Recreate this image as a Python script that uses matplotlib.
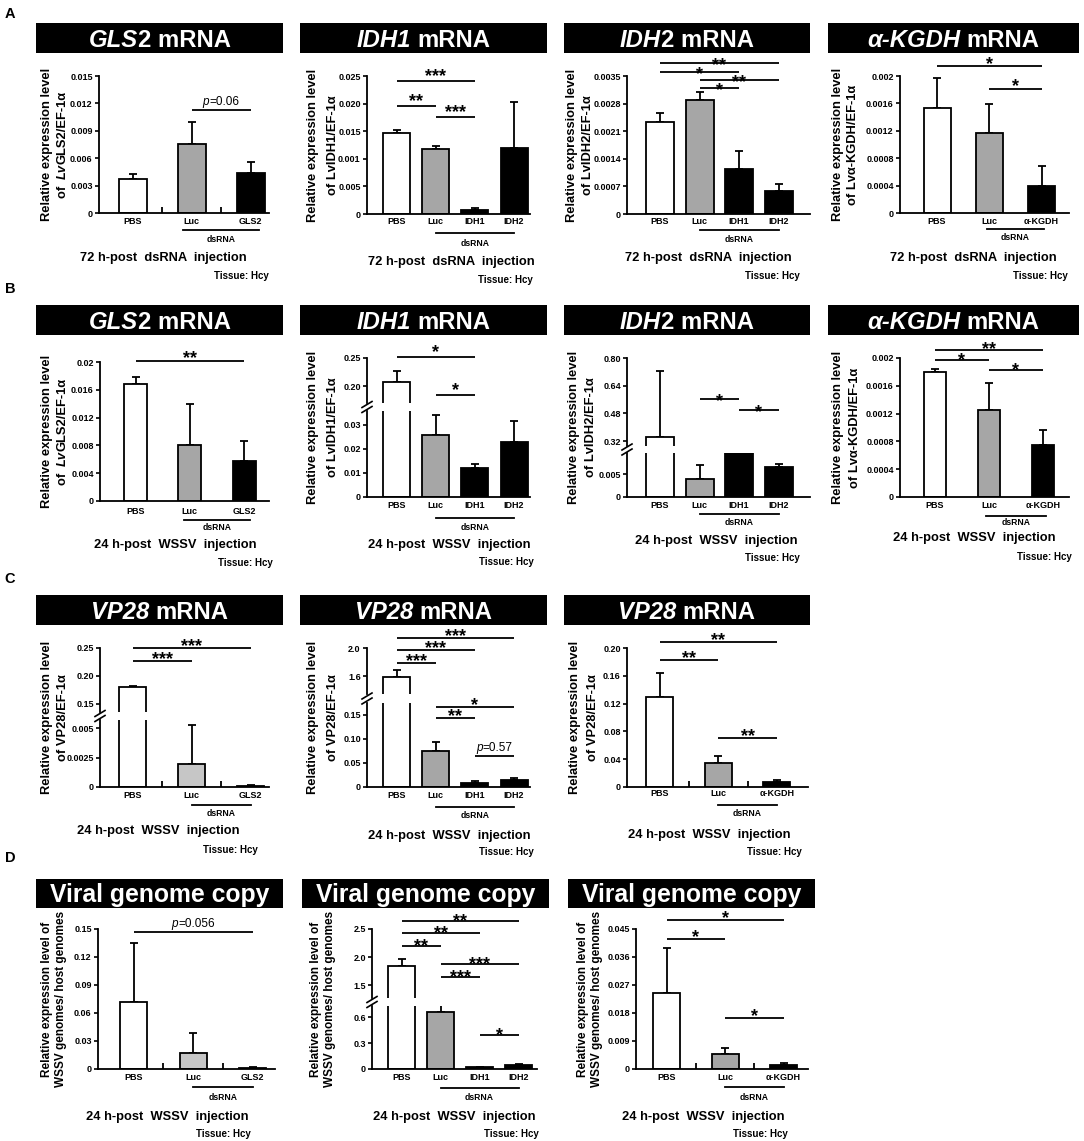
import matplotlib
matplotlib.use('Agg')
import matplotlib.pyplot as plt
from matplotlib.patches import Rectangle
from matplotlib.lines import Line2D
from matplotlib.transforms import blended_transform_factory, IdentityTransform

W, H = 1084, 1141
plt.rcParams['font.family'] = ['Liberation Sans', 'DejaVu Sans']
plt.rcParams['font.weight'] = 'bold'

WHITE, GRAY, LIGHT, BLACK = 'white', '#a6a6a6', '#c6c6c6', 'black'

# ---------------- data ----------------
gls_groups = ['PBS', 'Luc', 'GLS2']
idh_groups = ['PBS', 'Luc', 'IDH1', 'IDH2']
kgdh_groups = ['PBS', 'Luc', 'α-KGDH']

# A: 72 h-post dsRNA injection
a_gls2_mean = [0.0037, 0.0076, 0.0044]
a_gls2_sd = [0.0006, 0.0024, 0.0012]
a_gls2_sig = [(1, 2, 0.0113, 'p=0.06')]
a_idh1_mean = [0.0147, 0.0118, 0.0007, 0.0120]
a_idh1_sd = [0.0005, 0.0005, 0.0003, 0.0082]
a_idh1_sig = [(0, 2, 0.0241, '***'), (0, 1, 0.0196, '**'), (1, 2, 0.0176, '***')]
a_idh2_mean = [0.00233, 0.00289, 0.00115, 0.00058]
a_idh2_sd = [0.00024, 0.00020, 0.00044, 0.00017]
a_idh2_sig = [(0, 3, 0.00383, '**'), (0, 2, 0.0036, '*'), (1, 3, 0.0034, '**'), (1, 2, 0.0032, '*')]
a_kgdh_mean = [0.00153, 0.00117, 0.00039]
a_kgdh_sd = [0.00044, 0.00042, 0.00030]
a_kgdh_sig = [(0, 2, 0.00214, '*'), (1, 2, 0.00181, '*')]

# B: 24 h-post WSSV injection
b_gls2_mean = [0.0168, 0.0080, 0.0058]
b_gls2_sd = [0.0011, 0.0059, 0.0028]
b_gls2_sig = [(0, 2, 0.0201, '**')]
b_idh1_mean = [0.208, 0.0258, 0.0121, 0.0229]
b_idh1_sd = [0.018, 0.0084, 0.0017, 0.0088]
b_idh1_sig = [(0, 2, 0.252, '*'), (1, 2, 0.184, '*')]
b_idh2_mean = [0.345, 0.0039, 0.0096, 0.0066]
b_idh2_sd = [0.38, 0.0031, 0.0016, 0.0006]
b_idh2_sig = [(1, 2, 0.563, '*'), (2, 3, 0.50, '*')]
b_kgdh_mean = [0.00180, 0.00125, 0.00075]
b_kgdh_sd = [0.00004, 0.00039, 0.00021]
b_kgdh_sig = [(0, 2, 0.00212, '**'), (0, 1, 0.00197, '*'), (1, 2, 0.00183, '*')]

# C: VP28 mRNA
c_gls2_mean = [0.181, 0.00195, 0.0001]
c_gls2_sd = [0.002, 0.0033, 0.00005]
c_gls2_sig = [(0, 2, 0.2505, '***'), (0, 1, 0.2268, '***')]
c_idh_mean = [1.58, 0.075, 0.008, 0.0146]
c_idh_sd = [0.10, 0.019, 0.005, 0.005]
c_idh_sig = [(0, 3, 2.143, '***'), (0, 2, 1.971, '***'), (0, 1, 1.786, '***'),
             (1, 3, 0.167, '*'), (1, 2, 0.144, '**'), (2, 3, 0.065, 'p=0.57')]
c_kgdh_mean = [0.129, 0.035, 0.007]
c_kgdh_sd = [0.035, 0.010, 0.003]
c_kgdh_sig = [(0, 2, 0.2086, '**'), (0, 1, 0.183, '**'), (1, 2, 0.0705, '**')]

# D: viral genome copy
d_gls2_mean = [0.0715, 0.0175, 0.0012]
d_gls2_sd = [0.0632, 0.0214, 0.0005]
d_gls2_sig = [(0, 2, 0.1465, 'p=0.056')]
d_idh_mean = [1.845, 0.661, 0.018, 0.045]
d_idh_sd = [0.115, 0.089, 0.010, 0.012]
d_idh_sig = [(0, 3, 2.643, '**'), (0, 2, 2.43, '**'), (0, 1, 2.196, '**'),
             (1, 3, 1.875, '***'), (1, 2, 1.643, '***'), (2, 3, 0.392, '*')]
d_kgdh_mean = [0.0243, 0.0047, 0.0013]
d_kgdh_sd = [0.0145, 0.0021, 0.0006]
d_kgdh_sig = [(0, 2, 0.0479, '*'), (0, 1, 0.0418, '*'), (1, 2, 0.0164, '*')]

# y tick values / labels
t_a1 = [0, 0.003, 0.006, 0.009, 0.012, 0.015]
l_a1 = ['0', '0.003', '0.006', '0.009', '0.012', '0.015']
t_a2 = [0, 0.005, 0.010, 0.015, 0.020, 0.025]
l_a2 = ['0', '0.005', '0.001', '0.015', '0.020', '0.025']
t_a3 = [0, 0.0007, 0.0014, 0.0021, 0.0028, 0.0035]
l_a3 = ['0', '0.0007', '0.0014', '0.0021', '0.0028', '0.0035']
t_kg = [0, 0.0004, 0.0008, 0.0012, 0.0016, 0.002]
l_kg = ['0', '0.0004', '0.0008', '0.0012', '0.0016', '0.002']
t_b1 = [0, 0.004, 0.008, 0.012, 0.016, 0.02]
l_b1 = ['0', '0.004', '0.008', '0.012', '0.016', '0.02']
t_b2u, l_b2u = [0.20, 0.25], ['0.20', '0.25']
t_b2l, l_b2l = [0, 0.01, 0.02, 0.03], ['0', '0.01', '0.02', '0.03']
t_b3u, l_b3u = [0.32, 0.48, 0.64, 0.80], ['0.32', '0.48', '0.64', '0.80']
t_b3l, l_b3l = [0, 0.005], ['0', '0.005']
t_c1u, l_c1u = [0.15, 0.20, 0.25], ['0.15', '0.20', '0.25']
t_c1l, l_c1l = [0, 0.0025, 0.005], ['0', '0.0025', '0.005']
t_c2u, l_c2u = [1.6, 2.0], ['1.6', '2.0']
t_c2l, l_c2l = [0, 0.05, 0.10, 0.15], ['0', '0.05', '0.10', '0.15']
t_c3 = [0, 0.04, 0.08, 0.12, 0.16, 0.20]
l_c3 = ['0', '0.04', '0.08', '0.12', '0.16', '0.20']
t_d1 = [0, 0.03, 0.06, 0.09, 0.12, 0.15]
l_d1 = ['0', '0.03', '0.06', '0.09', '0.12', '0.15']
t_d2u, l_d2u = [1.5, 2.0, 2.5], ['1.5', '2.0', '2.5']
t_d2l, l_d2l = [0, 0.3, 0.6], ['0', '0.3', '0.6']
t_d3 = [0, 0.009, 0.018, 0.027, 0.036, 0.045]
l_d3 = ['0', '0.009', '0.018', '0.027', '0.036', '0.045']

fig = plt.figure(figsize=(W / 100, H / 100), dpi=100)
fig.patch.set_facecolor('white')


def rich(x, y, parts, size, color='k', weight='bold', rot=0, va='baseline'):
    # x, y in display pixels, parts = [(text, style, gap after in px)]
    rend = fig.canvas.get_renderer()
    ts = []
    for s, st, gap in parts:
        if rot:
            t = fig.text(0, 0, s, transform=IdentityTransform(), fontsize=size, color=color,
                         fontweight=weight, style=st, rotation=90, ha='center', va='bottom')
        else:
            t = fig.text(0, 0, s, transform=IdentityTransform(), fontsize=size, color=color,
                         fontweight=weight, style=st, ha='left', va=va)
        ts.append((t, gap))
    sizes = []
    for t, gap in ts:
        bb = t.get_window_extent(rend)
        sizes.append((bb.height if rot else bb.width) + gap)
    pos = (y if rot else x) - sum(sizes) / 2
    for (t, gap), sz in zip(ts, sizes):
        t.set_position((x, pos) if rot else (pos, y))
        pos += sz


def panel(groups, mean, sd, sig, colors, L, R, c0, step, bw, axes_spec, title, ylab, ylx,
          box, cap, cx, tx, mids=False, ext=0.05, soff=7, ysize=9.3,
          caption='24 h-post  WSSV  injection'):
    n = len(groups)
    x = list(range(n))
    xlim = ((L - c0) / step, (R - c0) / step)
    axs = []
    for k, (T, B, ylim, ticks, labels) in enumerate(axes_spec):
        last = k == len(axes_spec) - 1
        ax = fig.add_axes([L / W, 1 - B / H, (R - L) / W, (B - T) / H])
        ax.patch.set_alpha(0)
        ax.bar(x, mean, width=bw / step, color=colors, edgecolor='k', linewidth=1.3, zorder=2)
        ax.errorbar(x, mean, yerr=[[0] * n, sd], fmt='none', ecolor='k', elinewidth=1.3,
                    capsize=3, capthick=1.3, zorder=1)
        ax.set_xlim(xlim)
        ax.set_ylim(ylim)
        ax.set_yticks(ticks)
        ax.set_yticklabels(labels, fontsize=6.5, fontweight='bold')
        ax.tick_params(axis='y', direction='out', length=3, width=1.2, pad=1.5)
        ax.set_xticks([])
        for s in ['top', 'right']:
            ax.spines[s].set_visible(False)
        ax.spines['left'].set_linewidth(1.3)
        if last:
            ax.spines['bottom'].set_linewidth(1.3)
            if mids:
                ax.set_xticks([i + 0.5 for i in range(n - 1)], minor=True)
                ax.tick_params(axis='x', which='minor', direction='in', length=4, width=1.3)
        else:
            ax.spines['bottom'].set_visible(False)
        axs.append(ax)

    # break marks on the y axis
    if len(axes_spec) == 2:
        yc = (axes_spec[0][1] + axes_spec[1][0]) / 2
        for off in (-2.5, 2.5):
            fig.add_artist(Line2D([(L - 5) / W, (L + 5) / W],
                                  [1 - (yc + off + 3) / H, 1 - (yc + off - 3) / H],
                                  transform=fig.transFigure, color='k', lw=1.2))

    # significance bars
    for i, j, h, lab in sig:
        ax = axs[0] if (len(axs) == 2 and h >= axes_spec[0][2][0]) else axs[-1]
        ax.plot([i, j], [h, h], color='k', lw=1.3, clip_on=False, solid_capstyle='butt')
        X, Y = ax.transData.transform(((i + j) / 2, h))
        if lab.startswith('p'):
            rich(X, Y + 5, [('p', 'italic', 0), (lab[1:], 'normal', 0)], 8.5, weight='normal')
        else:
            fig.text(X, Y + soff - 10.4, lab, transform=IdentityTransform(), ha='center',
                     va='baseline', fontsize=13, fontweight='bold')

    axb = axs[-1]
    trans = blended_transform_factory(axb.transData, fig.transFigure)
    for i, g in enumerate(groups):
        axb.text(i, 1 - cap[0] / H, g, transform=trans, ha='center', va='center', fontsize=6.5)
    axb.plot([1 - ext, n - 1 + ext], [1 - cap[1] / H] * 2, transform=trans, color='k',
             lw=1.3, clip_on=False)
    axb.text(n / 2, 1 - cap[2] / H, 'dsRNA', transform=trans, ha='center', va='center',
             fontsize=6.2)
    fig.text(cx / W, 1 - cap[3] / H, caption, ha='center', va='center', fontsize=9.3)
    fig.text(tx / W, 1 - cap[4] / H, 'Tissue: Hcy', ha='right', va='center', fontsize=7)

    # y label
    ymid = (axes_spec[0][0] + axes_spec[-1][1]) / 2
    for parts, xx in zip(ylab, ylx):
        rich(xx, H - ymid, parts, ysize, rot=90)

    # title box
    fig.add_artist(Rectangle((box[0] / W, 1 - box[3] / H), (box[1] - box[0]) / W,
                             (box[3] - box[2]) / H, transform=fig.transFigure,
                             facecolor='k', edgecolor='none'))
    tsize = title[1]
    rich((box[0] + box[1]) / 2, H - ((box[2] + box[3]) / 2 + 0.36 * tsize * 1.389),
         title[0], tsize, color='white')


REL = [('Relative expression level', 'normal', 0)]
t_gls = ([('GLS', 'italic', 0), ('2 mRNA', 'normal', 0)], 17.2)
t_idh1 = ([('IDH1', 'italic', 6), ('mRNA', 'normal', 0)], 17.2)
t_idh2 = ([('IDH', 'italic', 0), ('2 mRNA', 'normal', 0)], 17.2)
t_kgdh = ([('α-KGDH', 'italic', 6), ('mRNA', 'normal', 0)], 17.2)
t_vp = ([('VP28', 'italic', 6), ('mRNA', 'normal', 0)], 17.2)
t_vir = ([('Viral genome copy', 'normal', 0)], 17.8)

y_gls = [REL, [('of ', 'normal', 3), ('Lv', 'italic', 0), ('GLS2/EF-1α', 'normal', 0)]]
y_idh1 = [REL, [('of LvIDH1/EF-1α', 'normal', 0)]]
y_idh2 = [REL, [('of LvIDH2/EF-1α', 'normal', 0)]]
y_kgdh = [REL, [('of Lvα-KGDH/EF-1α', 'normal', 0)]]
y_vp = [REL, [('of VP28/EF-1α', 'normal', 0)]]
y_vir = [[('Relative expression level of', 'normal', 0)], [('WSSV genomes/ host genomes', 'normal', 0)]]

cap72 = '72 h-post  dsRNA  injection'
c3 = [WHITE, GRAY, BLACK]
c4 = [WHITE, GRAY, BLACK, BLACK]

# row A
panel(gls_groups, a_gls2_mean, a_gls2_sd, a_gls2_sig, c3, 99, 269, 132.5, 59, 28,
      [(76, 213, (0, 0.015), t_a1, l_a1)], t_gls, y_gls, (47, 63), (36, 283, 23, 53),
      (222, 230, 239, 258, 276), 163, 269, mids=True, ext=0.15, caption=cap72)
panel(idh_groups, a_idh1_mean, a_idh1_sd, a_idh1_sig, c4, 367, 530, 396.5, 39.2, 27,
      [(76, 214, (0, 0.025), t_a2, l_a2)], t_idh1, y_idh1, (313, 333), (300, 547, 23, 53),
      (222, 233, 243, 262, 280), 451, 533, ext=0, soff=10, caption=cap72)
panel(idh_groups, a_idh2_mean, a_idh2_sd, a_idh2_sig, c4, 627, 810, 660, 39.5, 28,
      [(76, 214, (0, 0.0035), t_a3, l_a3)], t_idh2, y_idh2, (572, 588), (564, 810, 23, 53),
      (222, 230, 239, 258, 276), 708, 800, ext=0, soff=3.5, caption=cap72)
panel(kgdh_groups, a_kgdh_mean, a_kgdh_sd, a_kgdh_sig, c3, 900, 1069, 937, 52.3, 27,
      [(76, 213, (0, 0.002), t_kg, l_kg)], t_kgdh, y_kgdh, (838, 853), (828, 1079, 23, 53),
      (222, 229, 238, 258, 276), 973, 1068, soff=8, caption=cap72)

# row B
panel(gls_groups, b_gls2_mean, b_gls2_sd, b_gls2_sig, c3, 100, 269, 135.5, 54.3, 23,
      [(362, 501, (0, 0.02), t_b1, l_b1)], t_gls, y_gls, (47, 63), (36, 283, 305, 335),
      (512, 520, 527, 545, 563), 175, 273, ext=0.1, soff=9)
panel(idh_groups, b_idh1_mean, b_idh1_sd, b_idh1_sig, c4, 367, 530, 396.5, 39.2, 27,
      [(358, 403, (0.17, 0.25), t_b2u, l_b2u), (411, 497, (0, 0.0358), t_b2l, l_b2l)],
      t_idh1, y_idh1, (313, 333), (300, 547, 305, 335), (505, 518, 527, 545, 562), 449, 534,
      ext=0, soff=10)
panel(idh_groups, b_idh2_mean, b_idh2_sd, b_idh2_sig, c4, 627, 810, 660, 39.5, 28,
      [(358, 446, (0.292, 0.80), t_b3u, l_b3u), (453, 497, (0, 0.0096), t_b3l, l_b3l)],
      t_idh2, y_idh2, (574, 591), (564, 810, 305, 335), (505, 514, 523, 541, 558), 716, 800,
      ext=0, soff=3.5)
panel(kgdh_groups, b_kgdh_mean, b_kgdh_sd, b_kgdh_sig, c3, 900, 1069, 935, 54, 22,
      [(358, 497, (0, 0.002), t_kg, l_kg)], t_kgdh, y_kgdh, (838, 855), (828, 1079, 305, 335),
      (505, 516, 523, 538, 557), 974, 1072, soff=5.5)

# row C
panel(gls_groups, c_gls2_mean, c_gls2_sd, c_gls2_sig, [WHITE, LIGHT, BLACK], 100, 269, 132.5, 59, 27,
      [(648, 712, (0.1357, 0.25), t_c1u, l_c1u), (720, 787, (0, 0.00568), t_c1l, l_c1l)],
      t_vp, y_vp, (47, 63), (36, 283, 595, 625), (795, 805, 814, 831, 850), 158, 258,
      mids=True, ext=0)
panel(idh_groups, c_idh_mean, c_idh_sd, c_idh_sig, c4, 367, 530, 396.5, 39.2, 27,
      [(648, 694, (1.343, 2.0), t_c2u, l_c2u), (703, 787, (0, 0.175), t_c2l, l_c2l)],
      t_vp, y_vp, (313, 333), (300, 547, 595, 625), (796, 807, 816, 836, 852), 449, 534, ext=0)
panel(kgdh_groups, c_kgdh_mean, c_kgdh_sd, c_kgdh_sig, c3, 627, 808, 659.5, 58.7, 27,
      [(648, 787, (0, 0.2), t_c3, l_c3)], t_vp, y_vp, (575, 593), (564, 810, 595, 625),
      (794, 805, 814, 835, 852), 709, 802, mids=True, ext=0)

# row D
panel(gls_groups, d_gls2_mean, d_gls2_sd, d_gls2_sig, [WHITE, LIGHT, BLACK], 98, 275, 133.5, 59.5, 27,
      [(929, 1069, (0, 0.15), t_d1, l_d1)], t_vir, y_vir, (47, 61), (36, 283, 879, 908),
      (1077, 1087, 1097, 1117, 1134), 167, 251, mids=True, ext=0, ysize=8.5)
panel(idh_groups, d_idh_mean, d_idh_sd, d_idh_sig, c4, 372, 537, 401.5, 39, 27,
      [(929, 998, (1.268, 2.5), t_d2u, l_d2u), (1006, 1069, (0, 0.727), t_d2l, l_d2l)],
      t_vir, y_vir, (316, 330), (302, 549, 879, 908), (1077, 1088, 1098, 1117, 1134), 454, 539,
      ext=0, soff=5, ysize=8.5)
panel(kgdh_groups, d_kgdh_mean, d_kgdh_sd, d_kgdh_sig, c3, 636, 808, 666.5, 58.5, 27,
      [(929, 1069, (0, 0.045), t_d3, l_d3)], t_vir, y_vir, (583, 597), (568, 815, 879, 908),
      (1077, 1087, 1097, 1117, 1134), 703, 788, mids=True, ext=0, ysize=8.5)

for lab, yy in [('A', 14), ('B', 289), ('C', 579), ('D', 858)]:
    fig.text(10 / W, 1 - yy / H, lab, ha='center', va='center', fontsize=10.5, fontweight='bold')

fig.savefig('out.png', dpi=100)
